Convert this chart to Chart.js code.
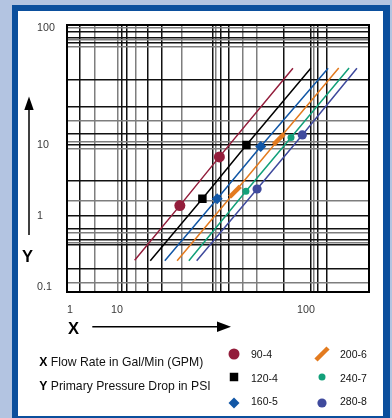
<!DOCTYPE html>
<html>
<head>
<meta charset="utf-8">
<script src="https://cdn.jsdelivr.net/npm/chart.js@4.4.1/dist/chart.umd.min.js"></script>
<style>
  html, body { margin: 0; padding: 0; }
  body {
    width: 392px; height: 418px; overflow: hidden; position: relative;
    background: #b3c4e1;
    font-family: 'Liberation Sans', Arial, Helvetica, sans-serif;
  }
  #frame {
    position: absolute; left: 12px; top: 5px; width: 378px; height: 417px;
    box-sizing: border-box; border: 6px solid #0b4f9d; border-right-width: 7px;
    background: #fff;
  }
  #chart { position: absolute; left: 0; top: 0; }
  .txt { position: absolute; white-space: nowrap; color: #111; }
  .axisName { font-weight: bold; font-size: 16.5px; line-height: 20px; color: #000; }
  .desc { font-size: 12.2px; line-height: 14px; }
  .desc b { color: #000; }
  .leg { font-size: 10.5px; line-height: 14px; }
  #arrows { position: absolute; left: 0; top: 0; }
</style>
</head>
<body>
<div id="frame"></div>
<svg id="arrows" width="392" height="418">
  <line x1="29" y1="109" x2="29" y2="235" stroke="#000" stroke-width="1.5"/>
  <polygon points="24.3,110 33.7,110 29,96.5" fill="#000"/>
  <line x1="92.3" y1="326.7" x2="218" y2="326.7" stroke="#000" stroke-width="1.5"/>
  <polygon points="217,321.5 217,332 231,326.7" fill="#000"/>
</svg>
<canvas id="chart" width="392" height="418"></canvas>
<div class="txt axisName" style="left:22px; top:245.7px;">Y</div>
<div class="txt axisName" style="left:68px; top:317.7px;">X</div>
<div class="txt desc" style="left:39.3px; top:355px;"><b>X</b> Flow Rate in Gal/Min (GPM)</div>
<div class="txt desc" style="left:39.3px; top:378.5px;"><b>Y</b> Primary Pressure Drop in PSI</div>
<div id="legend"></div>
<script>
// series (flow in GPM, pressure drop in PSI)
const seriesNames = ["90-4", "120-4", "160-5", "200-6", "240-7", "280-8"];
const gpm904 = [12.4, 21.5, 34.8, 85.3];
const psi904 = [0.238, 1.4, 6.8, 45.2];
const gpm1204 = [15.0, 28.3, 48.4, 106];
const psi1204 = [0.235, 1.75, 10.0, 45.2];
const gpm1605 = [17.9, 33.9, 57.6, 131];
const psi1605 = [0.235, 1.75, 9.5, 45.3];
const gpm2006 = [20.8, 42.1, 71.8, 149];
const psi2006 = [0.235, 2.2, 11.2, 45.5];
const gpm2407 = [24.0, 48.1, 83.3, 169];
const psi2407 = [0.235, 2.23, 11.6, 45.5];
const gpm2808 = [26.4, 55.1, 95.6, 186];
const psi2808 = [0.235, 2.4, 12.2, 45.2];

// tick labels and grid lines
const xTickLabels = [1, 10, 100];
const yTickLabels = [0.1, 1, 10, 100];
const xGridBlack = [1.6, 10.6, 11.2, 14.6, 17.3, 32, 35.5, 39, 76, 106, 116, 129];
const xGridGray = [3.4, 10.1, 12.5, 22, 33.4, 46, 55, 110];
const yGridBlack = [93.3, 82.9, 74.4, 36.3, 21.1, 12.4, 10, 3.16, 1, 0.667, 0.459, 0.39, 0.179];
const yGridGray = [100, 79, 69.5, 16, 10.6, 8.93, 1.64, 0.576, 0.423, 0.114];

// the printed grid is not a true log grid: decades are spaced unevenly
const warpStops = {
  x: [[1, 3 / 302], [10, 50 / 302], [100, 239 / 302]],
  y: [[0.1, 5 / 267], [1, 76 / 267], [10, 147 / 267], [100, 264 / 267]]
};

const uniq = (a) => Array.from(new Set(a)).sort((p, q) => p - q);
const axisTicks = {
  x: uniq(xTickLabels.concat(xGridBlack, xGridGray)),
  y: uniq(yTickLabels.concat(yGridBlack, yGridGray))
};
const gridBlack = { x: xGridBlack, y: yGridBlack };
const gridGray = { x: xGridGray, y: yGridGray };
const tickLabels = { x: xTickLabels, y: yTickLabels };

class WarpLogScale extends Chart.LogarithmicScale {
  buildTicks() {
    return axisTicks[this.id].map((v) => ({ value: v }));
  }
  getPixelForValue(value) {
    const s = warpStops[this.id];
    const lv = Math.log10(value);
    let i = 1;
    while (i < s.length - 1 && lv > Math.log10(s[i][0])) i++;
    const l0 = Math.log10(s[i - 1][0]), l1 = Math.log10(s[i][0]);
    const d = s[i - 1][1] + (lv - l0) / (l1 - l0) * (s[i][1] - s[i - 1][1]);
    return this.getPixelForDecimal(d);
  }
  getValueForPixel(pixel) {
    const s = warpStops[this.id];
    const d = this.getDecimalForPixel(pixel);
    let i = 1;
    while (i < s.length - 1 && d > s[i][1]) i++;
    const l0 = Math.log10(s[i - 1][0]), l1 = Math.log10(s[i][0]);
    return Math.pow(10, l0 + (d - s[i - 1][1]) / (s[i][1] - s[i - 1][1]) * (l1 - l0));
  }
}
WarpLogScale.id = "warpLog";
WarpLogScale.defaults = {};
Chart.register(WarpLogScale);

const styles = [
  { color: "#931d3b", pointStyle: "circle", radius: 5.5, borderWidth: 0, rotation: 0 },
  { color: "#000000", pointStyle: "rect", radius: 6, borderWidth: 0, rotation: 0 },
  { color: "#1257a6", pointStyle: "rectRot", radius: 5.5, borderWidth: 0, rotation: 0 },
  { color: "#e37b1f", pointStyle: "line", radius: 7.5, borderWidth: 4.5, rotation: -45 },
  { color: "#12a07a", pointStyle: "circle", radius: 3.5, borderWidth: 0, rotation: 0 },
  { color: "#3f4a9d", pointStyle: "circle", radius: 4.6, borderWidth: 0, rotation: 0 }
];

function toPoints(xs, ys) {
  return xs.map((x, i) => ({ x: x, y: ys[i] }));
}

const seriesData = [
  toPoints(gpm904, psi904),
  toPoints(gpm1204, psi1204),
  toPoints(gpm1605, psi1605),
  toPoints(gpm2006, psi2006),
  toPoints(gpm2407, psi2407),
  toPoints(gpm2808, psi2808)
];

const datasets = seriesData.map((pts, i) => {
  const st = styles[i];
  return {
    label: seriesNames[i],
    data: pts,
    borderColor: st.color,
    borderWidth: 1.5,
    fill: false,
    tension: 0,
    pointStyle: st.pointStyle,
    pointRotation: st.rotation,
    pointRadius: pts.map((p, j) => (j === 0 || j === pts.length - 1 ? 0 : st.radius)),
    pointBackgroundColor: st.color,
    pointBorderColor: st.color,
    pointBorderWidth: st.borderWidth
  };
});

function axisOptions(id, position) {
  return {
    type: "warpLog",
    position: position,
    border: { display: false },
    grid: {
      drawTicks: false,
      color: (c) => {
        const v = c.tick && c.tick.value;
        if (gridBlack[id].includes(v)) return "#111111";
        if (gridGray[id].includes(v)) return "#7e7e7e";
        return "rgba(0,0,0,0)";
      },
      lineWidth: (c) => {
        const v = c.tick && c.tick.value;
        return gridBlack[id].includes(v) || gridGray[id].includes(v) ? 1.5 : 0;
      }
    },
    ticks: {
      autoSkip: false,
      maxRotation: 0,
      padding: 12,
      crossAlign: id === "y" ? "far" : "near",
      color: "#3a3a3a",
      font: { family: "'Liberation Sans', Arial, sans-serif", size: 10.7 },
      callback: (v) => (tickLabels[id].includes(v) ? String(v) : "")
    },
    afterFit: (scale) => {
      if (id === "y") scale.width = 30; else scale.height = 30;
      scale.paddingTop = 0; scale.paddingBottom = 0;
      scale.paddingLeft = 0; scale.paddingRight = 0;
    }
  };
}

const plotBorder = {
  id: "plotBorder",
  beforeDatasetsDraw(chart) {
    const a = chart.chartArea;
    const ctx = chart.ctx;
    ctx.save();
    ctx.strokeStyle = "#000";
    ctx.lineWidth = 2;
    ctx.strokeRect(a.left, a.top, a.right - a.left, a.bottom - a.top);
    ctx.restore();
  }
};

const chart = new Chart(document.getElementById("chart"), {
  type: "line",
  data: { datasets: datasets },
  options: {
    responsive: false,
    animation: false,
    layout: { autoPadding: false, padding: { left: 37, right: 23, top: 25, bottom: 96 } },
    plugins: { legend: { display: false }, tooltip: { enabled: false } },
    scales: { x: axisOptions("x", "bottom"), y: axisOptions("y", "left") }
  },
  plugins: [plotBorder]
});

// legend in two columns of three
const legendMarkX = [234, 322];
const legendTextX = [251, 340];
const legendMarkY = [353.7, 377, 402.5];
const legendTextTop = [347.4, 370.8, 394.3];
const legend = document.getElementById("legend");
seriesNames.forEach((name, i) => {
  const col = Math.floor(i / 3), row = i % 3;
  const st = styles[i];
  const cv = document.createElement("canvas");
  cv.width = 26; cv.height = 26;
  cv.style.position = "absolute";
  cv.style.left = (legendMarkX[col] - 13) + "px";
  cv.style.top = (legendMarkY[row] - 13) + "px";
  legend.appendChild(cv);
  const ctx = cv.getContext("2d");
  ctx.fillStyle = st.color;
  ctx.strokeStyle = st.color;
  ctx.lineWidth = st.borderWidth;
  Chart.helpers.drawPoint(ctx, {
    pointStyle: st.pointStyle,
    rotation: st.rotation,
    radius: st.pointStyle === "line" ? 8.5 : st.radius,
    borderWidth: st.borderWidth
  }, 13, 13);
  const t = document.createElement("div");
  t.className = "txt leg";
  t.style.left = legendTextX[col] + "px";
  t.style.top = legendTextTop[row] + "px";
  t.textContent = name;
  legend.appendChild(t);
});
</script>
</body>
</html>
